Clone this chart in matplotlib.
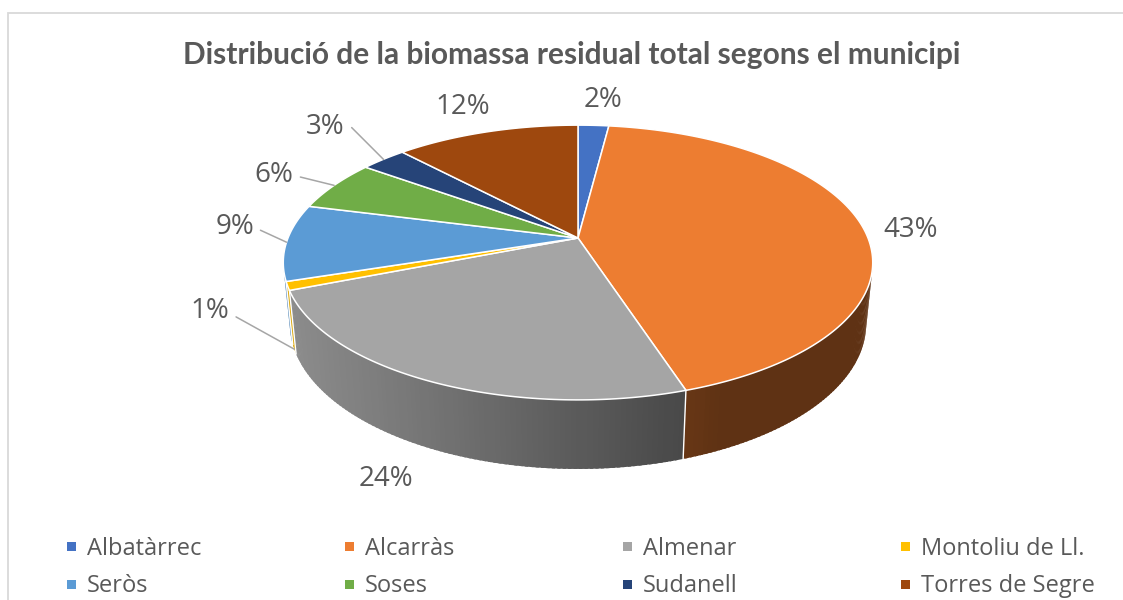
import numpy as np
import matplotlib
matplotlib.use('Agg')
import matplotlib.pyplot as plt
from matplotlib.patches import Polygon, Rectangle
from matplotlib.colors import to_rgb

# data
municipis = ['Albatàrrec', 'Alcarràs', 'Almenar', 'Montoliu de Ll.',
             'Seròs', 'Soses', 'Sudanell', 'Torres de Segre']
percentatges = [2, 43, 24, 1, 9, 6, 3, 12]
colors = ['#4472C4', '#ED7D31', '#A5A5A5', '#FFC000',
          '#5B9BD5', '#70AD47', '#264478', '#9E480E']
title = 'Distribució de la biomassa residual total segons el municipi'

# layout (pixels)
W, H = 1123, 600
CX, CY, K = 578, 238, 290          # pie centre and radius on screen
TILT = np.radians(27.3)             # camera elevation
DIST = 4.98                         # perspective distance
DEPTH = 0.24                        # thickness of the pie
TXT = '#595959'

# label offsets in pixels from the slice anchor, and leader lines
label_off = [(10, 25), (49, -4), (-45, -97), (-84, 38),
             (-52, 15), (-60, 10), (-58, 32), (-24, 25)]
anchor_low = [False, False, False, True, False, False, False, False]
leader = [None, None, None, 151, 180, 180, 135, None]


def project(x, y, z):
    u = y * np.sin(TILT) + z * np.cos(TILT)
    d = y * np.cos(TILT) - z * np.sin(TILT)
    f = DIST / (DIST + d)
    return x * f, u * f


def rim(theta, z=0.0):
    return project(np.sin(theta), np.cos(theta), z)


def visible(theta):
    return np.cos(theta) < -1.0 / (DIST * np.cos(TILT))


def shade(col, sx):
    k = np.clip(0.85 - 0.3 * (sx + 1), 0.4, 1.0)
    return tuple(c * k for c in to_rgb(col))


fig = plt.figure(figsize=(W / 100, H / 100), dpi=100)
ax = fig.add_axes([0, 0, 1, 1])
ax.set_xlim(-CX / K, (W - CX) / K)
ax.set_ylim(-(H - CY) / K, CY / K)
ax.axis('off')

# chart frame
fig.patches.append(Rectangle((8 / W, -0.1), 1.2, 1.1 - 13 / H, transform=fig.transFigure,
                             fill=False, edgecolor='#d9d9d9', lw=1.3))

fracs = np.array(percentatges, dtype=float) / sum(percentatges)
bounds = np.concatenate([[0], np.cumsum(fracs)]) * 2 * np.pi

# side walls (small overlapping strips give the shading gradient)
for i, col in enumerate(colors):
    th = np.linspace(bounds[i], bounds[i + 1], max(3, int(fracs[i] * 400)))
    step = th[1] - th[0]
    for a in th[:-1]:
        b = min(a + step * 1.6, bounds[i + 1])
        m = a + 0.5 * step
        if not visible(m):
            continue
        xa, ya = rim(a)
        xb, yb = rim(b)
        xa2, ya2 = rim(a, -DEPTH)
        xb2, yb2 = rim(b, -DEPTH)
        c = shade(col, rim(m)[0])
        ax.add_patch(Polygon([(xa, ya), (xb, yb), (xb2, yb2), (xa2, ya2)],
                             closed=True, facecolor=c, edgecolor='none'))

for t in bounds[:-1]:
    if visible(t):
        x0, y0 = rim(t)
        x1, y1 = rim(t, -DEPTH)
        ax.plot([x0, x1], [y0, y1], color='white', lw=1)

# top face
for i, col in enumerate(colors):
    th = np.linspace(bounds[i], bounds[i + 1], max(3, int(fracs[i] * 400)))
    xs, ys = rim(th)
    pts = [(0, 0)] + list(zip(xs, ys))
    ax.add_patch(Polygon(pts, closed=True, facecolor=col, edgecolor='white',
                         lw=1.1, joinstyle='round'))

# data labels
for i, p in enumerate(percentatges):
    mid = 0.5 * (bounds[i] + bounds[i + 1])
    anchor = rim(mid, -DEPTH if anchor_low[i] else 0.0)
    kw = {}
    if leader[i] is not None:
        if leader[i] == 180:
            cs = 'arc3'
        else:
            cs = 'angle,angleA=0,angleB=%d,rad=0' % leader[i]
        kw['arrowprops'] = dict(arrowstyle='-', color='#a6a6a6', lw=1.1,
                                shrinkA=3, shrinkB=0, relpos=(1, 0.5),
                                connectionstyle=cs)
    ax.annotate('%d%%' % p, xy=anchor, xytext=label_off[i], textcoords='offset pixels',
                ha='center', va='center', fontsize=20, color=TXT,
                family=['Open Sans', 'DejaVu Sans'], **kw)

# title, scaled to the reference width
t = fig.text(572 / W, 1 - 55 / H, title, ha='center', va='center', fontsize=20,
             weight='bold', color=TXT, family=['Lato', 'DejaVu Sans'])
fig.canvas.draw()
w = t.get_window_extent().width
t.set_fontsize(20 * 779 / w)

# legend
for i, name in enumerate(municipis):
    col, row = i % 4, i // 4
    mx = 67 + 278 * col
    my = 542 + 37.5 * row
    fig.patches.append(Rectangle((mx / W, 1 - (my + 9) / H), 9 / W, 9 / H,
                                 transform=fig.transFigure, facecolor=colors[i], lw=0))
    fig.text((mx + 20) / W, 1 - (555 + 37.5 * row) / H, name, ha='left', va='baseline',
             fontsize=17, color=TXT, family=['Open Sans', 'DejaVu Sans'])

fig.savefig('out.png', dpi=100, facecolor='white')
